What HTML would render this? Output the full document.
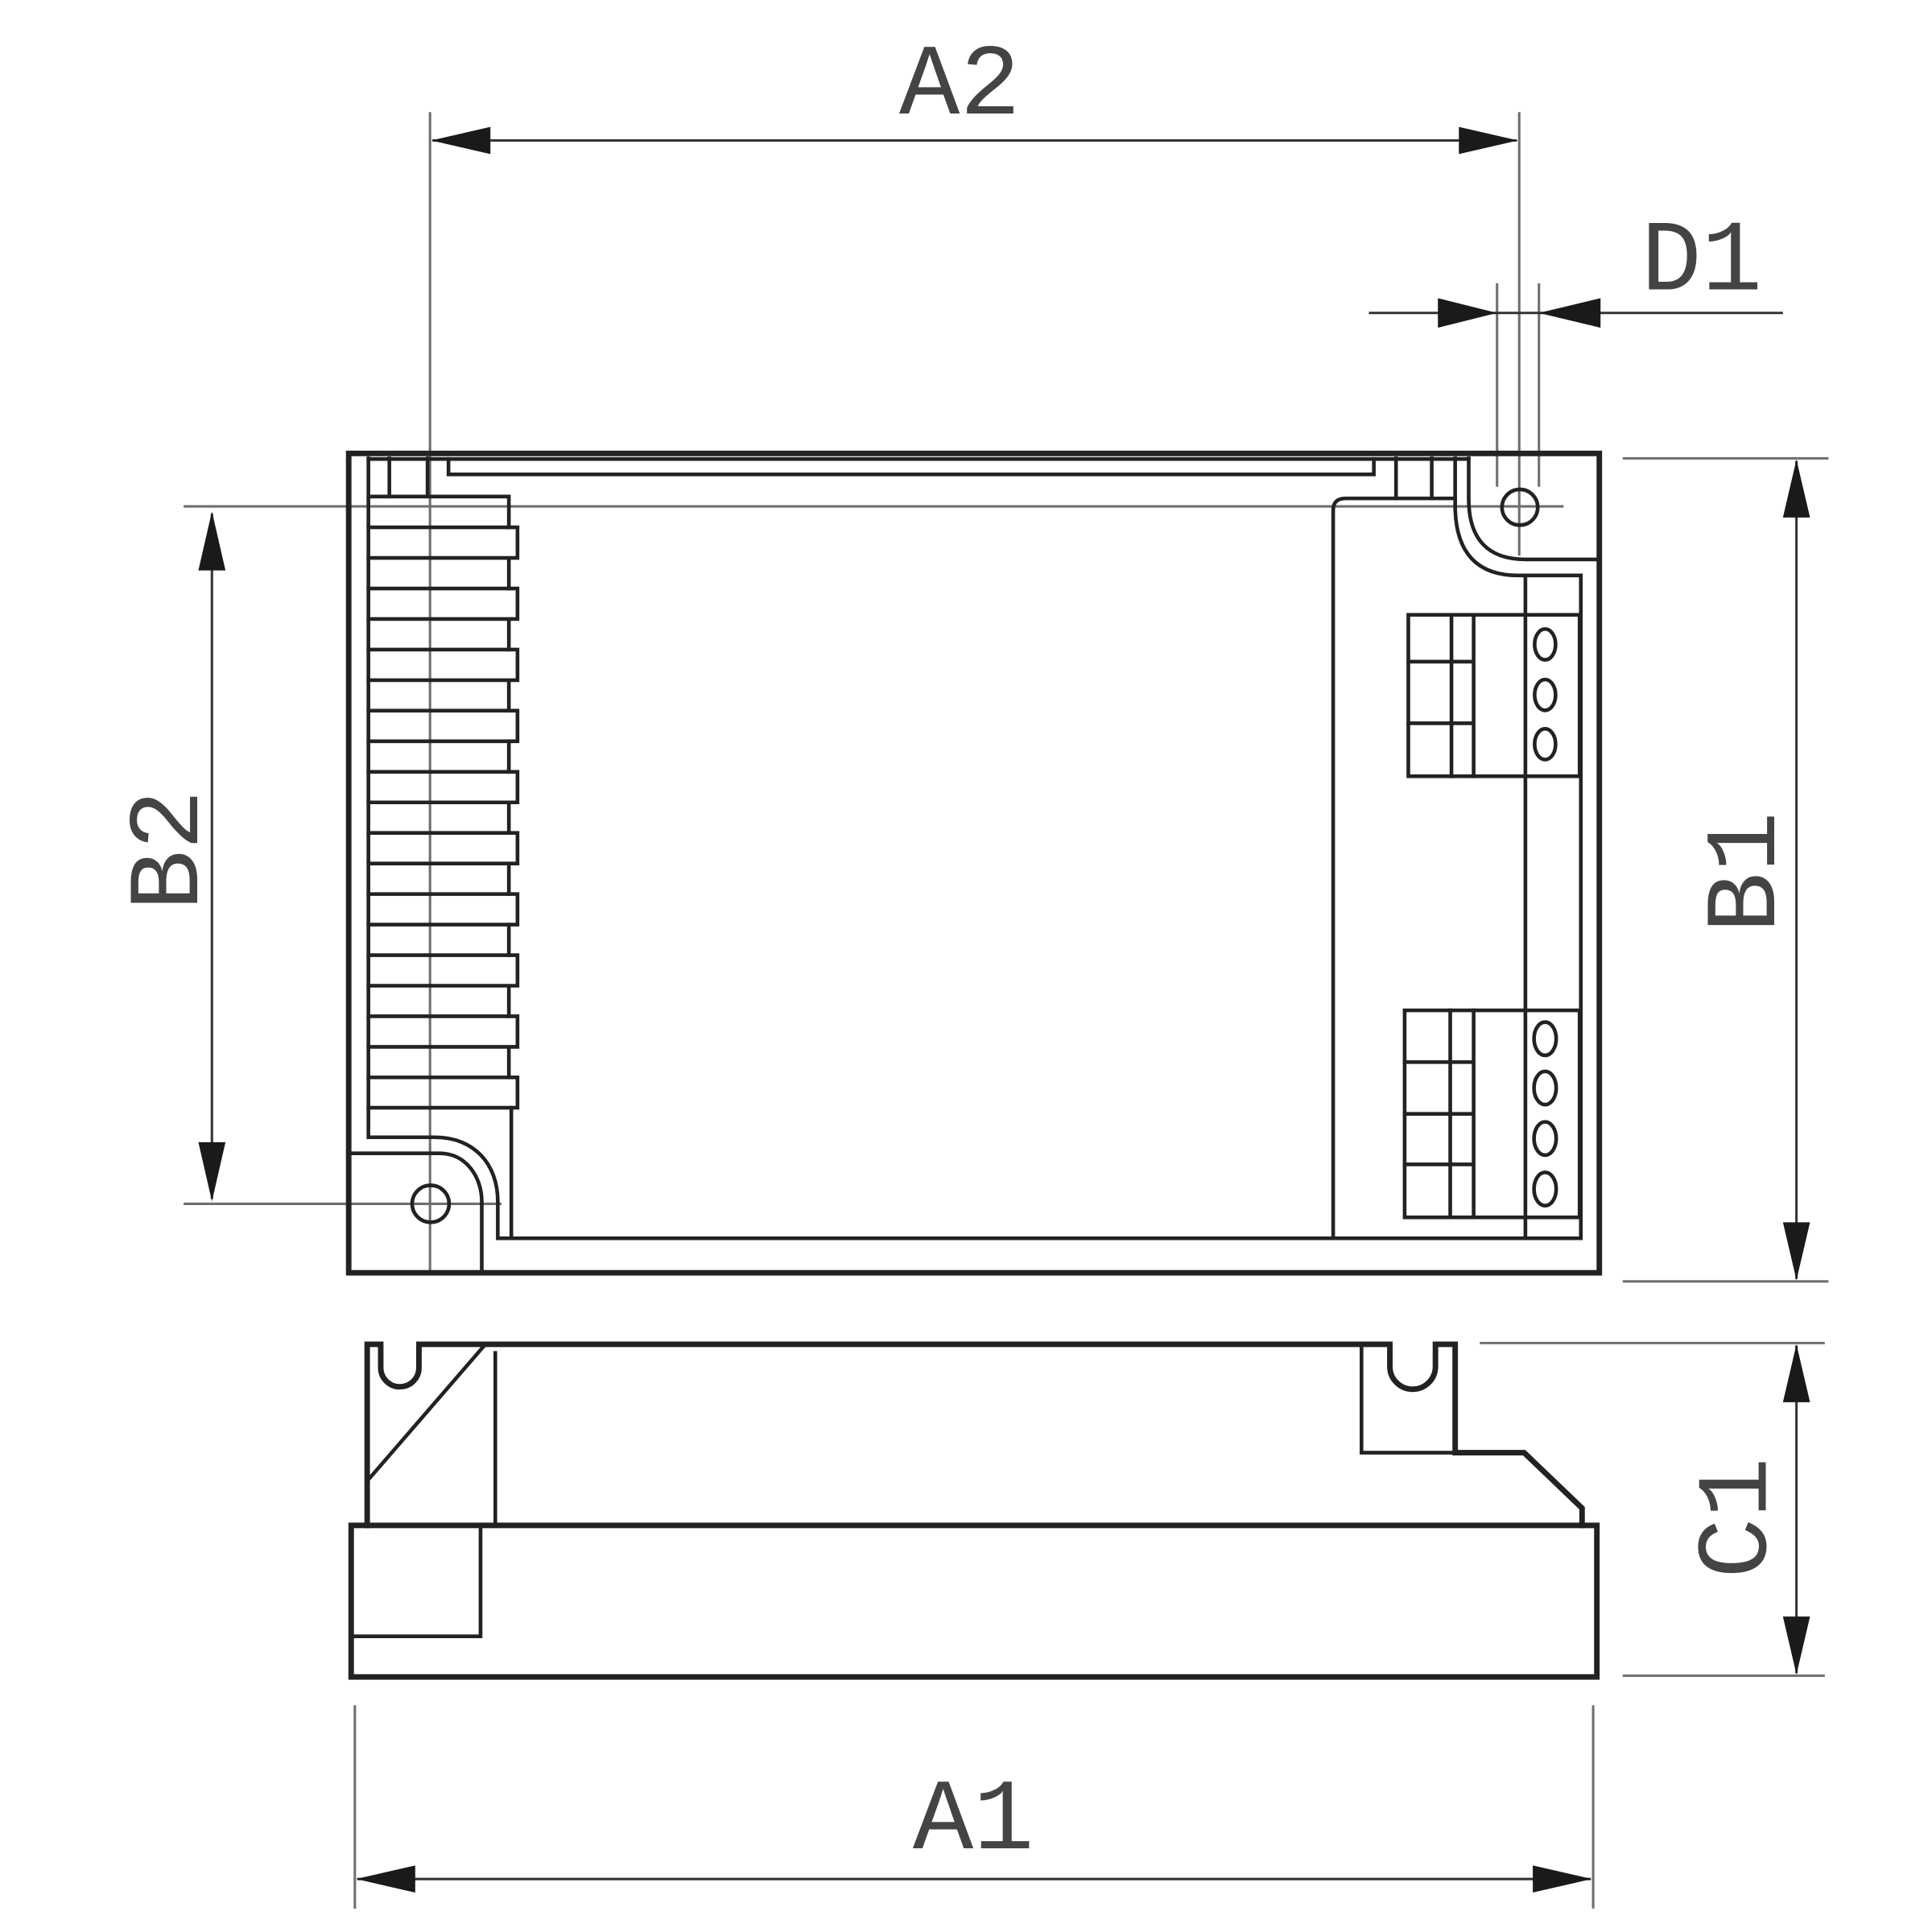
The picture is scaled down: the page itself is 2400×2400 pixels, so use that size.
<!DOCTYPE html>
<html><head><meta charset="utf-8"><style>html,body{margin:0;padding:0;background:#fff}svg{display:block}</style></head>
<body>
<svg width="2400" height="2400" viewBox="0 0 1568 1568" xmlns="http://www.w3.org/2000/svg">
<rect width="1568" height="1568" fill="#fff"/>
<g fill="none" stroke-linecap="square">
<g stroke="#6e6e6e" stroke-width="2">
<line x1="349" y1="92" x2="349" y2="1032"/>
<line x1="1233" y1="92" x2="1233" y2="450"/>
<line x1="1215" y1="231" x2="1215" y2="394"/>
<line x1="1249" y1="231" x2="1249" y2="394"/>
<line x1="150" y1="411" x2="1268" y2="411"/>
<line x1="150" y1="977" x2="406" y2="977"/>
<line x1="1318" y1="372" x2="1483" y2="372"/>
<line x1="1318" y1="1040" x2="1483" y2="1040"/>
<line x1="1202" y1="1090" x2="1480" y2="1090"/>
<line x1="1318" y1="1360" x2="1480" y2="1360"/>
<line x1="288" y1="1385" x2="288" y2="1548"/>
<line x1="1293" y1="1385" x2="1293" y2="1548"/>
</g>
<g stroke="#333" stroke-width="2">
<line x1="352" y1="114" x2="1230" y2="114"/>
<line x1="1112" y1="254" x2="1446" y2="254"/>
<line x1="172" y1="418" x2="172" y2="972"/>
<line x1="1458" y1="375" x2="1458" y2="1037"/>
<line x1="1458" y1="1093" x2="1458" y2="1357"/>
<line x1="291" y1="1525" x2="1290" y2="1525"/>
</g>
<g stroke="#222" stroke-width="4.5">
<rect x="283" y="368" width="1015" height="665"/>
</g>
<g stroke="#222" stroke-width="3">
<path d="M299 372 V923 H353 C385 923 404 945 404 975 V1005 H1283 V467"/>
<path d="M283 936 H357 C378 936 391 955 391 975 V1033"/>
<path d="M299 372.5 H1192"/>
<path d="M364 372.5 V385 H1115 V372.5"/>
<path d="M316 372 V403 M347 372 V403"/>
<path d="M1133 372 V404.5 M1162 372 V404.5"/>
<path d="M1181 404.5 H1092 Q1082 404.5 1082 414 V1005"/>
<path d="M1181 372 V410 C1181 450 1200 467 1232 467 H1283"/>
<path d="M1192 372 V405 C1192 438 1208 454 1238 454 H1297"/>
<path d="M1238 467 V1005"/>
<path d="M415 899 V1005"/>
<path d="M299 403 H413 V428"/>
<path d="M299 428 H420 V452.8 H299 M413 452.8 V477.6"/>
<path d="M299 477.6 H420 V502.4 H299 M413 502.4 V527.2"/>
<path d="M299 527.2 H420 V552 H299 M413 552 V576.8"/>
<path d="M299 576.8 H420 V601.6 H299 M413 601.6 V626.4"/>
<path d="M299 626.4 H420 V651.2 H299 M413 651.2 V676"/>
<path d="M299 676 H420 V700.8 H299 M413 700.8 V725.6"/>
<path d="M299 725.6 H420 V750.4 H299 M413 750.4 V775.2"/>
<path d="M299 775.2 H420 V800 H299 M413 800 V824.8"/>
<path d="M299 824.8 H420 V849.6 H299 M413 849.6 V874.4"/>
<path d="M299 874.4 H420 V899 H299"/>
<rect x="1143" y="499" width="139" height="131"/>
<path d="M1178 499 V630 M1196 499 V630 M1143 537 H1196 M1143 587 H1196"/>
<rect x="1140" y="820" width="142" height="168"/>
<path d="M1177 820 V988 M1196 820 V988 M1140 862 H1196 M1140 904 H1196 M1140 945 H1196"/>
</g>
<g stroke="#222" stroke-width="3">
<ellipse cx="1254" cy="523" rx="8.5" ry="12.5"/>
<ellipse cx="1254" cy="564" rx="8.5" ry="12.5"/>
<ellipse cx="1254" cy="604" rx="8.5" ry="12.5"/>
<ellipse cx="1254" cy="843" rx="9" ry="13.5"/>
<ellipse cx="1254" cy="883" rx="9" ry="13.5"/>
<ellipse cx="1254" cy="924" rx="9" ry="13.5"/>
<ellipse cx="1254" cy="965" rx="9" ry="13.5"/>
<circle cx="1233.5" cy="411.7" r="14.5"/>
<circle cx="349.5" cy="977" r="15"/>
</g>
<g stroke="#222" stroke-width="4.5" stroke-linejoin="miter">
<path d="M298 1238 V1091 H309 V1110 A15.5 15.5 0 0 0 340 1110 V1091 H1128 V1109 A18.5 18.5 0 0 0 1165 1109 V1091 H1181 V1179 H1237 L1284 1224 V1238"/>
<rect x="285" y="1238" width="1011" height="123"/>
</g>
<g stroke="#222" stroke-width="3">
<path d="M298 1202 L394 1091"/>
<path d="M402 1098 V1238"/>
<path d="M1105 1091 V1179 H1181"/>
<path d="M285 1328 H390 V1238"/>
</g>
</g>
<g fill="#1a1a1a">
<polygon points="350,114 398,103 398,125"/>
<polygon points="1232,114 1184,103 1184,125"/>
<polygon points="1215,254 1167,242 1167,266"/>
<polygon points="1249,254 1299,242 1299,266"/>
<polygon points="172,415 161,463 183,463"/>
<polygon points="172,975 161,927 183,927"/>
<polygon points="1458,373 1447,420 1469,420"/>
<polygon points="1458,1039 1447,992 1469,992"/>
<polygon points="1458,1091 1447,1138 1469,1138"/>
<polygon points="1458,1359 1447,1312 1469,1312"/>
<polygon points="289,1525 337,1514 337,1536"/>
<polygon points="1292,1525 1244,1514 1244,1536"/>
</g>
<g font-family="Liberation Mono, monospace" font-size="82" fill="#444" text-anchor="middle">
<text x="779" y="92">A2</text>
<text x="1381" y="235">D1</text>
<text x="790" y="1500">A1</text>
<text transform="translate(160,690) rotate(-90)">B2</text>
<text transform="translate(1440,708) rotate(-90)">B1</text>
<text transform="translate(1433,1232) rotate(-90)">C1</text>
</g>
</svg>
</body></html>
